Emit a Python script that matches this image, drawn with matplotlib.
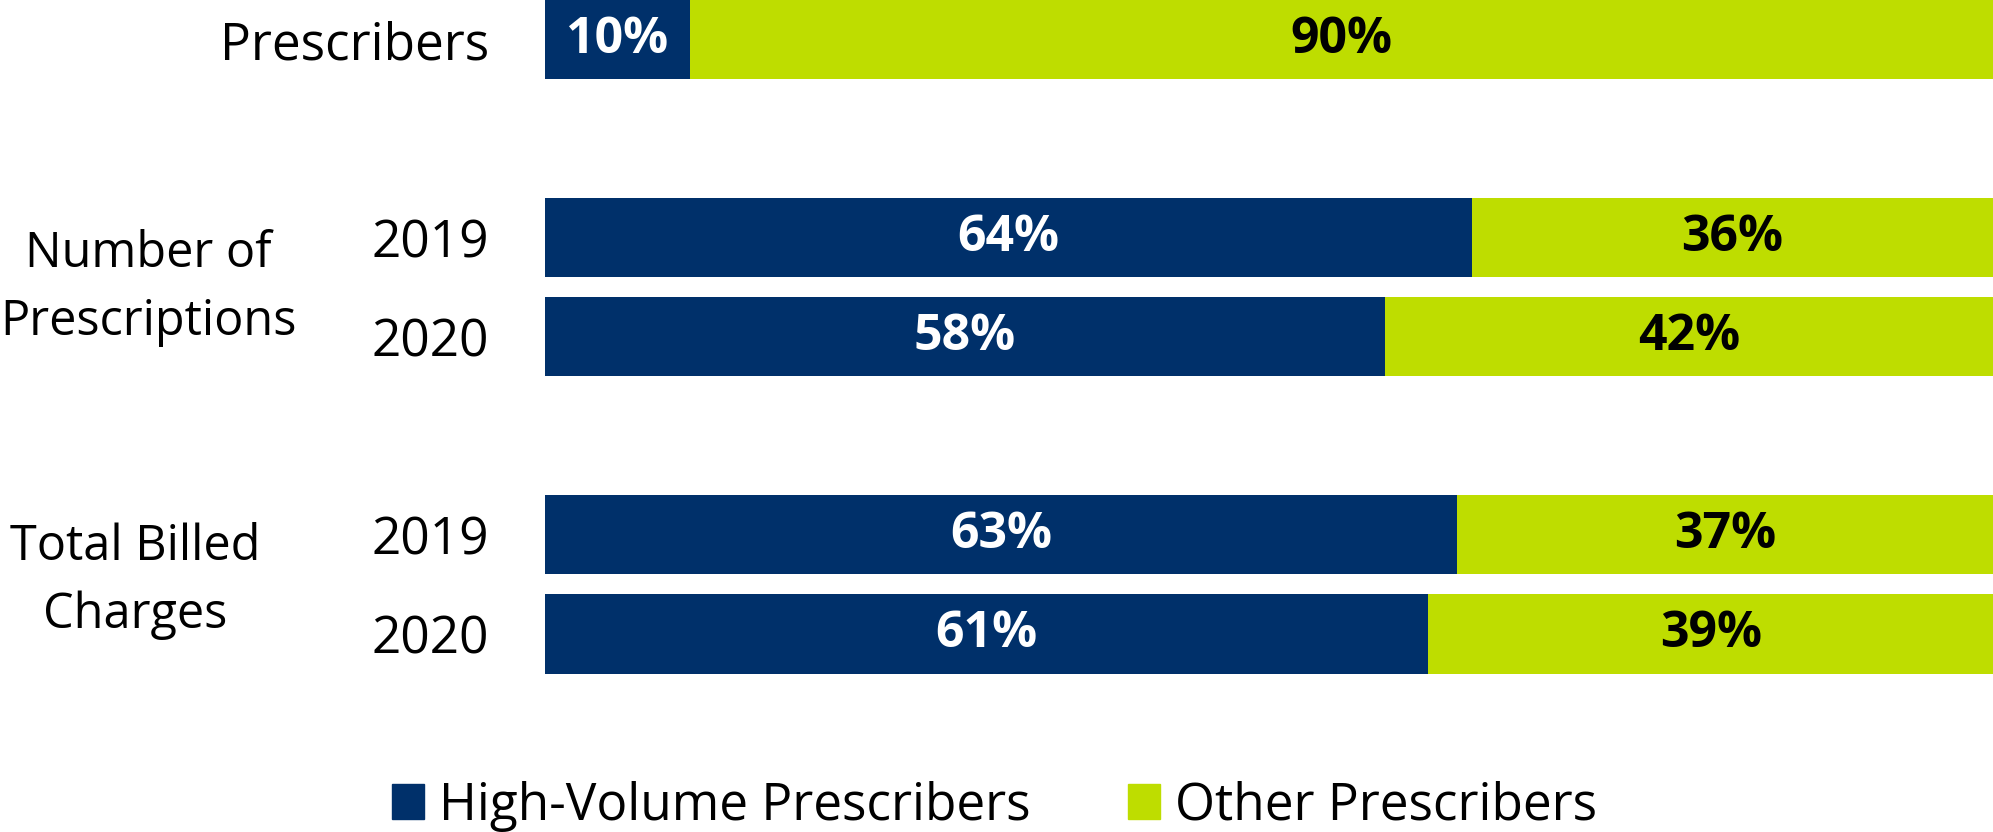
import matplotlib.pyplot as plt
from matplotlib.patches import Patch
import matplotlib.transforms as transforms

plt.rcParams['font.family'] = ['Open Sans', 'DejaVu Sans']

row_labels = ['Prescribers', '2019', '2020', '2019', '2020']
row_pos = [0, 2, 3, 5, 6]
high_volume = [10, 64, 58, 63, 61]
other = [90, 36, 42, 37, 39]
group_labels = ['Number of\nPrescriptions', 'Total Billed\nCharges']
group_pos = [2.51, 5.47]
group_x = [0.0743, 0.0677]
series_names = ['High-Volume Prescribers', 'Other Prescribers']

navy = '#00306a'
lime = '#bedd00'

fig = plt.figure(figsize=(19.93, 8.32), dpi=100)
ax = fig.add_axes([545 / 1993, 0, 1 - 545 / 1993, 1])

ax.barh(row_pos, high_volume, height=0.8, color=navy)
ax.barh(row_pos, other, left=high_volume, height=0.8, color=lime)

for i in range(len(row_pos)):
    ax.text(high_volume[i] / 2, row_pos[i], str(high_volume[i]) + '%',
            ha='center', va='center', color='white', fontsize=36, fontweight='bold')
    ax.text(high_volume[i] + other[i] / 2, row_pos[i], str(other[i]) + '%',
            ha='center', va='center', color='black', fontsize=36, fontweight='bold')

ax.set_xlim(0, 100)
ax.set_ylim(8.0, -0.4)
ax.set_yticks(row_pos)
ax.set_yticklabels(row_labels, fontsize=37)
ax.tick_params(axis='y', length=0, pad=40)
ax.set_xticks([])
for s in ax.spines.values():
    s.set_visible(False)

# group names to the left of the year labels
trans = transforms.blended_transform_factory(fig.transFigure, ax.transData)
for i in range(len(group_labels)):
    ax.text(group_x[i], group_pos[i], group_labels[i], transform=trans,
            ha='center', va='center', fontsize=35, linespacing=1.5)

handles = [Patch(color=navy), Patch(color=lime)]
fig.legend(handles, series_names, loc='center', bbox_to_anchor=(0.499, 0.031),
           ncol=2, frameon=False, fontsize=37, handlelength=0.62, handleheight=0.68,
           handletextpad=0.3, columnspacing=1.9)

plt.savefig('out.png', dpi=100)
